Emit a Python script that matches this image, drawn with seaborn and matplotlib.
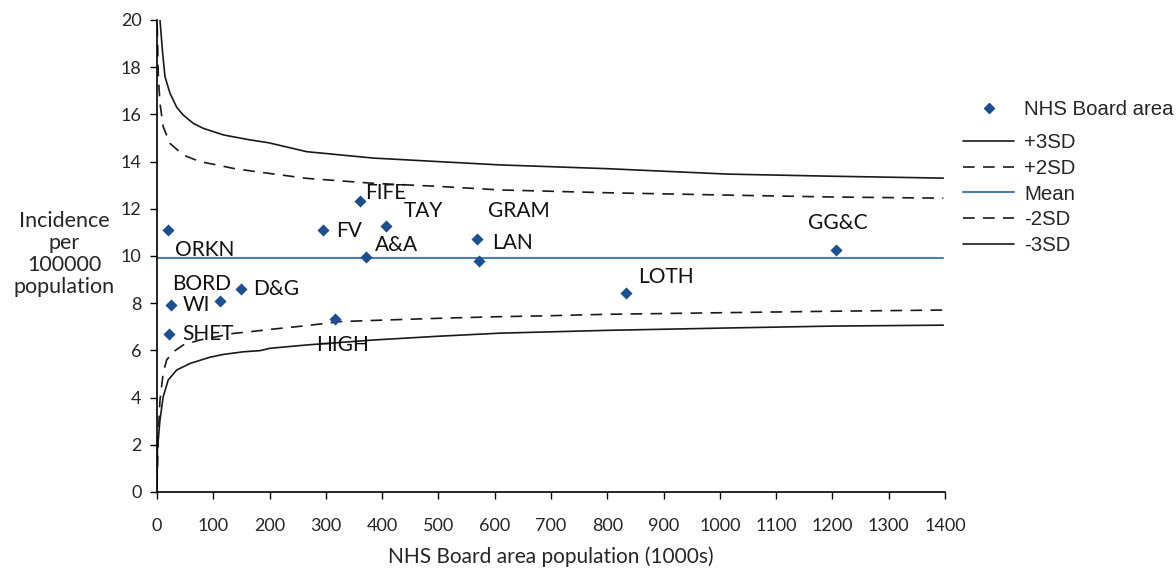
import matplotlib
matplotlib.use("Agg")
import matplotlib.pyplot as plt
import numpy as np
import pandas as pd
import seaborn as sns
from matplotlib.lines import Line2D

# ---- data ----
boards = ["ORKN", "WI", "BORD", "SHET", "D&G", "FV", "FIFE", "TAY", "A&A",
          "HIGH", "GRAM", "LAN", "LOTH", "GG&C"]
population = [19.5, 25, 112, 21, 149, 295, 360, 407, 371, 316, 568, 572, 833, 1206]
incidence = [11.1, 7.92, 8.1, 6.7, 8.6, 11.1, 12.33, 11.27, 9.96, 7.33, 10.72,
             9.79, 8.43, 10.25]

mean_x = [0, 1397]
mean_y = [9.93, 9.93]

plus3_x = [0.8, 2.4, 5.3, 10, 14.2, 23, 35, 46.7, 64.5, 82, 118, 165, 198, 266, 384,
           500, 609, 800, 1014, 1200, 1397]
plus3_y = [25.0, 22.0, 20.0, 18.6, 17.6, 16.9, 16.3, 15.97, 15.62, 15.41, 15.13, 14.92,
           14.8, 14.42, 14.15, 14.0, 13.86, 13.7, 13.47, 13.38, 13.3]

plus2_x = [0.3, 2.4, 5.3, 11, 23, 46.7, 76, 106, 136, 177, 266, 384, 500, 609, 800,
           1014, 1200, 1397]
plus2_y = [19.8, 17.6, 16.47, 15.48, 14.77, 14.28, 14.0, 13.86, 13.71, 13.57, 13.29,
           13.08, 12.95, 12.8, 12.68, 12.58, 12.5, 12.45]

minus2_x = [0, 2.4, 5.3, 11, 17, 29, 46.7, 76, 106, 136, 165, 201, 266, 325, 384, 500,
            609, 680, 800, 1014, 1200, 1397]
minus2_y = [0.2, 2.49, 3.9, 5.03, 5.59, 5.94, 6.23, 6.44, 6.58, 6.72, 6.79, 6.89, 7.05,
            7.22, 7.27, 7.36, 7.43, 7.46, 7.53, 7.6, 7.66, 7.71]

minus3_x = [0, 0.6, 5.3, 11, 20, 35, 59, 94, 118, 153, 183, 201, 266, 384, 500, 609,
            800, 1014, 1200, 1397]
minus3_y = [0.0, 1.78, 3.05, 4.04, 4.75, 5.17, 5.45, 5.71, 5.83, 5.94, 5.99, 6.09, 6.23,
            6.44, 6.6, 6.73, 6.85, 6.95, 7.03, 7.07]

x_ticks = list(range(0, 1401, 100))
y_ticks = list(range(0, 21, 2))

# label offsets in pixels (dx right, dy up)
label_offsets = {"ORKN": (7, -20), "WI": (12, 0), "BORD": (-48, 17), "SHET": (13, 0),
                 "D&G": (12, 0), "FV": (13, -1), "FIFE": (5, 8), "TAY": (18, 15),
                 "A&A": (9, 12), "HIGH": (-19, -26), "GRAM": (11, 28), "LAN": (13, 18),
                 "LOTH": (12, 16), "GG&C": (-28, 27)}

# ---- plot ----
sns.set_style("ticks")
plt.rcParams["font.family"] = ["Lato", "DejaVu Sans"]

fig = plt.figure(figsize=(11.76, 5.72), dpi=100)
ax = fig.add_axes([157 / 1176, 1 - 492 / 572, (945 - 157) / 1176, (492 - 20) / 572])

line_color = "#1a1a1a"
mean_color = "#4f7bb5"
pt_color = "#1f4e8c"
dash = (0, (7, 5))

sns.lineplot(x=plus3_x, y=plus3_y, ax=ax, color=line_color, lw=1.2, sort=False, estimator=None)
sns.lineplot(x=plus2_x, y=plus2_y, ax=ax, color=line_color, lw=1.2, sort=False,
             estimator=None, linestyle=dash)
sns.lineplot(x=mean_x, y=mean_y, ax=ax, color=mean_color, lw=1.5, sort=False, estimator=None)
sns.lineplot(x=minus2_x, y=minus2_y, ax=ax, color=line_color, lw=1.2, sort=False,
             estimator=None, linestyle=dash)
sns.lineplot(x=minus3_x, y=minus3_y, ax=ax, color=line_color, lw=1.2, sort=False, estimator=None)

df = pd.DataFrame({"board": boards, "pop": population, "inc": incidence})
sns.scatterplot(data=df, x="pop", y="inc", ax=ax, marker="D", s=38, color=pt_color,
                edgecolor=pt_color, linewidth=0, zorder=5)

for b, xv, yv in zip(boards, population, incidence):
    dx, dy = label_offsets[b]
    ax.annotate(b, (xv, yv), xytext=(dx, dy), textcoords="offset pixels",
                ha="left", va="center", fontsize=15, color="#111111")

ax.set_xlim(0, 1400)
ax.set_ylim(0, 20)
ax.set_xticks(x_ticks)
ax.set_yticks(y_ticks)
ax.tick_params(axis="both", labelsize=13, length=5, width=1, color="black", pad=6)
ax.tick_params(axis="x", pad=14)
for s in ["top", "right"]:
    ax.spines[s].set_visible(False)
for s in ["left", "bottom"]:
    ax.spines[s].set_color("black")
    ax.spines[s].set_linewidth(1.2)

ax.set_xlabel("NHS Board area population (1000s)", fontsize=15, labelpad=9)
ax.set_ylabel("")
fig.text(64 / 1176, 1 - 254 / 572, "Incidence\nper\n100000\npopulation", ha="center",
         va="center", fontsize=15.5, linespacing=1.12)

leg_font = {"family": "Liberation Sans", "size": 14.7}
marker_handle = [Line2D([], [], marker="D", color=pt_color, linestyle="none", markersize=5)]
leg1 = fig.legend(marker_handle, ["NHS Board area"], loc="upper left",
                  bbox_to_anchor=(955 / 1176, 1 - 92 / 572), frameon=False, prop=leg_font,
                  handlelength=2.5, handletextpad=0.5, borderaxespad=0)

line_handles = [
    Line2D([], [], color=line_color, lw=1.2),
    Line2D([], [], color=line_color, lw=1.2, linestyle=dash),
    Line2D([], [], color=mean_color, lw=1.5),
    Line2D([], [], color=line_color, lw=1.2, linestyle=dash),
    Line2D([], [], color=line_color, lw=1.2),
]
line_labels = ["+3SD", "+2SD", "Mean", "-2SD", "-3SD"]
leg2 = fig.legend(line_handles, line_labels, loc="upper left",
                  bbox_to_anchor=(955 / 1176, 1 - 125 / 572), frameon=False, prop=leg_font,
                  handlelength=2.5, handletextpad=0.5, labelspacing=0.33, borderaxespad=0)

fig.savefig("out.png", dpi=100)
